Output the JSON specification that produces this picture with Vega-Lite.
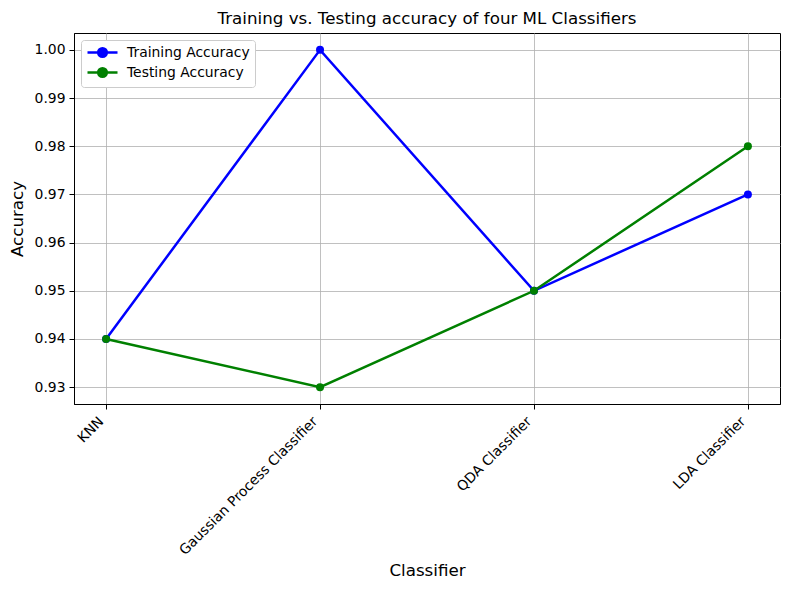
{
  "$schema": "https://vega.github.io/schema/vega-lite/v6.json",
  "autosize": {"type": "none"},
  "width": 706,
  "height": 371,
  "padding": {"left": 74, "top": 33, "right": 10, "bottom": 186},
  "background": "white",
  "title": {
    "text": "Training vs. Testing accuracy of four ML Classifiers",
    "font": "DejaVu Sans",
    "fontSize": 16.7,
    "fontWeight": "normal",
    "color": "black",
    "offset": 5
  },
  "config": {
    "font": "DejaVu Sans",
    "view": {"stroke": "black", "strokeWidth": 1},
    "axis": {
      "labelFont": "DejaVu Sans",
      "titleFont": "DejaVu Sans",
      "labelFontSize": 13.9,
      "titleFontSize": 16.7,
      "titleFontWeight": "normal",
      "labelColor": "black",
      "titleColor": "black",
      "domainColor": "black",
      "tickColor": "black",
      "tickSize": 5,
      "labelPadding": 4,
      "labelLimit": 400,
      "gridColor": "#b0b0b0",
      "gridWidth": 0.8,
      "gridOpacity": 1
    }
  },
  "data": {
    "values": [
      {"Classifier": "KNN", "series": "Training Accuracy", "Accuracy": 0.94},
      {"Classifier": "Gaussian Process Classifier", "series": "Training Accuracy", "Accuracy": 1.00},
      {"Classifier": "QDA Classifier", "series": "Training Accuracy", "Accuracy": 0.95},
      {"Classifier": "LDA Classifier", "series": "Training Accuracy", "Accuracy": 0.97},
      {"Classifier": "KNN", "series": "Testing Accuracy", "Accuracy": 0.94},
      {"Classifier": "Gaussian Process Classifier", "series": "Testing Accuracy", "Accuracy": 0.93},
      {"Classifier": "QDA Classifier", "series": "Testing Accuracy", "Accuracy": 0.95},
      {"Classifier": "LDA Classifier", "series": "Testing Accuracy", "Accuracy": 0.98}
    ]
  },
  "encoding": {
    "x": {
      "field": "Classifier",
      "type": "nominal",
      "sort": null,
      "scale": {"type": "point", "padding": 0.15},
      "axis": {
        "labelAngle": -45,
        "labelAlign": "right",
        "labelBaseline": "middle",
        "labelPadding": 10,
        "labelOffset": -5,
        "grid": true,
        "title": "Classifier",
        "titlePadding": 5
      }
    },
    "y": {
      "field": "Accuracy",
      "type": "quantitative",
      "scale": {"domain": [0.9265, 1.0035], "nice": false, "zero": false},
      "axis": {
        "values": [0.93, 0.94, 0.95, 0.96, 0.97, 0.98, 0.99, 1.0],
        "format": ".2f",
        "grid": true,
        "title": "Accuracy",
        "titlePadding": 8
      }
    },
    "color": {
      "field": "series",
      "type": "nominal",
      "sort": ["Training Accuracy", "Testing Accuracy"],
      "scale": {"domain": ["Training Accuracy", "Testing Accuracy"], "range": ["#0000ff", "#008000"]},
      "legend": {
        "title": null,
        "orient": "top-left",
        "offset": 7,
        "fillColor": "white",
        "strokeColor": "#cccccc",
        "cornerRadius": 3,
        "padding": 5,
        "labelFont": "DejaVu Sans",
        "labelFontSize": 13.9,
        "labelColor": "black",
        "symbolType": "M-2.5,0L2.5,0M-0.72,0A0.72,0.72 0 1,0 0.72,0A0.72,0.72 0 1,0 -0.72,0",
        "symbolSize": 144,
        "symbolStrokeWidth": 2.5,
        "symbolOffset": 9,
        "rowPadding": 1,
        "labelOffset": 17
      }
    }
  },
  "layer": [
    {"mark": {"type": "line", "strokeWidth": 2.5}},
    {"mark": {"type": "point", "filled": true, "size": 64, "opacity": 1}}
  ]
}
